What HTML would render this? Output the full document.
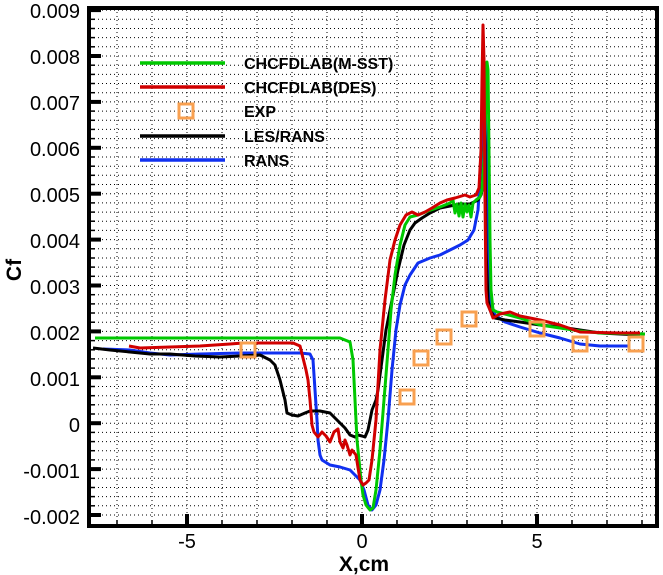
<!DOCTYPE html>
<html><head><meta charset="utf-8"><style>
body{margin:0;background:#fff}
svg{display:block}
text{font-family:"Liberation Sans",Arial,sans-serif}
</style></head><body>
<svg width="663" height="575" viewBox="0 0 663 575" xmlns="http://www.w3.org/2000/svg">
<g stroke="#000" stroke-width="1" stroke-dasharray="1,3" fill="none" id="grid">
</g>
<g fill="none" stroke-width="3" stroke-linejoin="round">
<polyline stroke="#1030f0" points="103,349 130,350 150,353 170,355 200,354 240,353 280,353 300,353 310,354 313,360 315,390 317,420 318,440 320,455 322,460 330,465 340,467 350,470 355,475 360,480 364,490 368,505 372,510 376,505 380,490 384,460 388,420 392,370 396,330 400,305 405,285 410,275 418,263 430,258 440,255 450,250 460,245 468,240 474,230 478,210 480,180 482,140 484,110 485,100 486,130 487,200 488,260 490,300 495,315 505,322 520,327 540,333 560,338 580,344 600,346 630,346"/>
<polyline stroke="#000" points="93,348 110,350 130,352 150,354 170,354 195,356 220,357 240,356 260,355 270,360 275,365 280,380 285,400 287,413 292,415 298,416 305,413 310,411 320,411 330,413 335,418 340,423 345,428 350,435 355,437 358,435 362,436 365,437 368,430 372,410 376,400 378,390 382,360 386,330 392,300 398,270 404,245 410,230 415,223 422,218 430,213 440,208 450,206 460,204 470,204 478,200 481,195 482,190 484,160 485,130 486,250 488,300 490,310 495,318 505,320 520,322 540,325 560,327 580,330 600,333 620,334 640,335"/>
<polyline stroke="#00c800" points="95,338 340,338 345,340 350,342 353,360 355,400 357,440 359,460 361,480 363,495 366,505 370,510 373,508 376,490 380,450 384,400 388,350 391,310 395,275 400,245 405,225 410,217 418,215 428,211 440,207 450,203 453,200 455,213 457,204 459,216 461,203 463,217 465,204 467,212 469,205 471,217 473,203 476,200 480,197 482,190 484,160 486,100 487,62 488,70 489,150 490,240 491,290 493,310 497,312 505,314 520,318 540,325 560,328 580,331 600,333 645,334"/>
<polyline stroke="#d00000" points="129,346 140,348 170,347 200,346 230,344 243,343 260,343 293,343 300,346 303,358 306,370 308,380 310,400 312,425 314,432 318,437 322,432 326,436 330,442 334,432 338,429 340,442 343,448 345,440 347,445 350,455 352,450 356,455 360,480 363,485 366,483 369,480 372,460 376,420 380,350 385,300 390,260 395,240 400,225 406,215 412,212 418,215 425,212 432,208 440,203 447,200 455,198 465,195 470,197 476,195 479,188 481,150 482,80 483,25 484,60 485,200 486,290 487,303 490,310 493,318 500,314 510,312 520,316 540,320 560,325 580,332 620,333 640,333"/>
</g>
<g fill="none" stroke="#f8a050" stroke-width="3">
<rect x="241" y="343" width="14" height="14"/>
<rect x="400" y="390" width="14" height="14"/>
<rect x="414" y="351" width="14" height="14"/>
<rect x="437" y="330" width="14" height="14"/>
<rect x="462" y="312" width="14" height="14"/>
<rect x="530" y="322" width="14" height="14"/>
<rect x="573" y="337" width="14" height="14"/>
<rect x="629" y="337" width="14" height="14"/>
<rect x="179" y="104" width="14" height="14"/>
</g>
<g stroke-width="3.5">
<line x1="140" y1="63" x2="225" y2="63" stroke="#00c800"/>
<line x1="140" y1="87" x2="225" y2="87" stroke="#d00000"/>
<line x1="140" y1="136" x2="225" y2="136" stroke="#000"/>
<line x1="140" y1="160" x2="225" y2="160" stroke="#1030f0"/>
</g>
<g font-size="16" font-weight="bold" fill="#000">
<text x="244" y="69">CHCFDLAB(M-SST)</text>
<text x="244" y="93">CHCFDLAB(DES)</text>
<text x="244" y="117">EXP</text>
<text x="244" y="142">LES/RANS</text>
<text x="244" y="166">RANS</text>
</g>
<g stroke="#000" id="ticks"></g>
<rect x="89" y="8" width="568" height="518" fill="none" stroke="#000" stroke-width="4"/>
<g font-size="20" text-anchor="end" fill="#000">
<text x="80" y="18">0.009</text>
<text x="80" y="64">0.008</text>
<text x="80" y="110">0.007</text>
<text x="80" y="156">0.006</text>
<text x="80" y="202">0.005</text>
<text x="80" y="248">0.004</text>
<text x="80" y="294">0.003</text>
<text x="80" y="340">0.002</text>
<text x="80" y="386">0.001</text>
<text x="80" y="432">0</text>
<text x="80" y="478">-0.001</text>
<text x="80" y="524">-0.002</text>
</g>
<g font-size="20" text-anchor="middle" fill="#000">
<text x="187" y="548">-5</text>
<text x="362" y="548">0</text>
<text x="537" y="548">5</text>
</g>
<text x="364" y="571" font-size="21" font-weight="bold" text-anchor="middle">X,cm</text>
<text transform="translate(21,270) rotate(-90)" font-size="21" font-weight="bold" text-anchor="middle">Cf</text>
<script>
(function(){
var NS='http://www.w3.org/2000/svg';
function ln(p,x1,y1,x2,y2,w){var l=document.createElementNS(NS,'line');l.setAttribute('x1',x1);l.setAttribute('y1',y1);l.setAttribute('x2',x2);l.setAttribute('y2',y2);if(w)l.setAttribute('stroke-width',w);p.appendChild(l);}
var g=document.getElementById('grid');
for(var i=-7;i<=8;i++){var x=362+35*i;ln(g,x,8,x,525);}
for(var j=0;j<=55;j++){var y=(515-j*9.18).toFixed(1);ln(g,90,y,656,y);}
var t=document.getElementById('ticks');
for(var i=-7;i<=8;i++){var x=362+35*i;var L=(i%5==0)?12:6;ln(t,x,526,x,526-L,(i%5==0)?4:1.5);}
for(var j=0;j<=55;j++){var y=(515-j*9.18).toFixed(1);var L=(j%5==0)?12:6;ln(t,89,y,89+L,y,(j%5==0)?4:1.5);}
})();
</script>
</svg>
</body></html>
